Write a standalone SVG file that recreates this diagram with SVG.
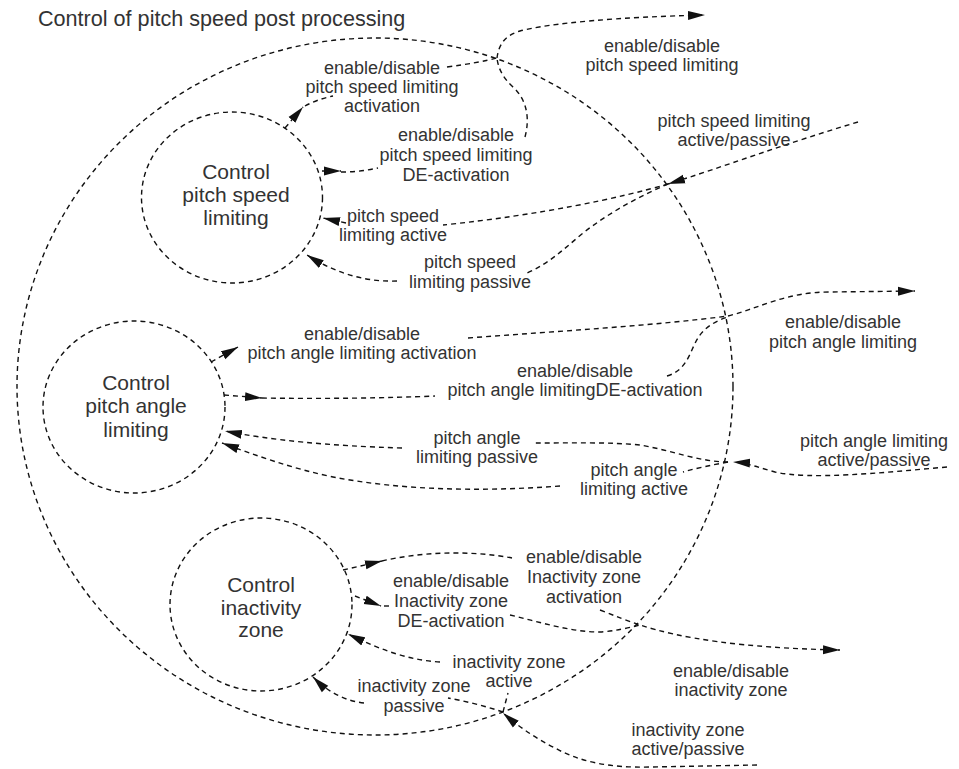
<svg xmlns="http://www.w3.org/2000/svg" width="959" height="769" viewBox="0 0 959 769">
  <style>
    text { font-family: "Liberation Sans", Arial, sans-serif; fill: #333; }
    .title { font-size: 21.6px; }
    .node-text { font-size: 21px; text-anchor: middle; }
    .label { font-size: 18px; text-anchor: middle; }
    .bubble { fill: none; stroke: #111; stroke-width: 1.4; stroke-dasharray: 5 4; }
    .edge { fill: none; stroke: #111; stroke-width: 1.4; stroke-dasharray: 5 4; }
    .arr { marker-end: url(#ah); }
  </style>
  <defs>
    <marker id="ah" markerUnits="userSpaceOnUse" markerWidth="18" markerHeight="10" refX="17" refY="5" orient="auto">
      <path d="M0,0.5 L17,5 L0,9.5 z" fill="#111"/>
    </marker>
  </defs>

  <rect width="959" height="769" fill="#fff"/>

  <!-- context process boundary -->
  <g id="post-processing">
    <ellipse class="bubble" cx="375" cy="386.5" rx="358" ry="348.5"/>
    <text class="title" x="38" y="26">Control of pitch speed post processing</text>
  </g>

  <!-- processes -->
  <g id="node-pitch-speed">
    <ellipse class="bubble" cx="232" cy="197.5" rx="90.5" ry="85.5"/>
    <text class="node-text"><tspan x="236" y="179">Control</tspan><tspan x="236" y="202">pitch speed</tspan><tspan x="236" y="225">limiting</tspan></text>
  </g>
  <g id="node-pitch-angle">
    <ellipse class="bubble" cx="134" cy="407" rx="91" ry="86"/>
    <text class="node-text"><tspan x="136" y="390">Control</tspan><tspan x="136" y="413">pitch angle</tspan><tspan x="136" y="437">limiting</tspan></text>
  </g>
  <g id="node-inactivity">
    <ellipse class="bubble" cx="261" cy="604.5" rx="91" ry="86.5"/>
    <text class="node-text"><tspan x="261" y="592">Control</tspan><tspan x="261" y="615">inactivity</tspan><tspan x="261" y="637">zone</tspan></text>
  </g>

  <!-- flows -->
  <g id="connectors">
    <!-- pitch speed: activation / de-activation out, merged -->
    <path class="edge arr" d="M285,128 L303,107"/>
    <path class="edge" d="M305,106 Q318,99 333,96"/>
    <path class="edge" d="M447,67 C470,64 485,61 497,58"/>
    <path class="edge arr" d="M322,171 L341,171"/>
    <path class="edge" d="M341,172 Q360,172 378,168"/>
    <path class="edge" d="M525,137 C530,118 527,100 513,87 C503,78 498,68 497,58"/>
    <path class="edge arr" d="M497,58 C499,42 507,35 520,31 C550,23 620,17 705,15"/>
    <!-- pitch speed: active / passive in, split -->
    <path class="edge arr" d="M858,122 C790,142 720,168 668,184"/>
    <path class="edge" d="M668,184 C620,198 540,215 443,225"/>
    <path class="edge arr" d="M346,223 L323,218"/>
    <path class="edge" d="M668,184 C640,196 610,212 583,233 C565,248 550,263 527,273"/>
    <path class="edge arr" d="M397,281 C370,282 340,276 307,255"/>

    <!-- pitch angle: activation / de-activation out, merged -->
    <path class="edge arr" d="M211,362 L238,347"/>
    <path class="edge arr" d="M468,338 C560,331 650,326 728,316 C760,308 785,292 830,292 L915,291"/>
    <path class="edge arr" d="M224,395 L262,398"/>
    <path class="edge" d="M262,398 C320,399 390,398 435,396"/>
    <path class="edge" d="M667,376 C688,370 690,350 698,338 C704,328 715,321 728,317"/>
    <!-- pitch angle: active / passive in, split -->
    <path class="edge arr" d="M947,467 C880,473 810,480 775,472 C760,468 748,463 733,462"/>
    <path class="edge" d="M728,462 C700,462 670,450 640,445 C610,442 570,443 535,443"/>
    <path class="edge arr" d="M402,448 C330,446 270,440 225,431"/>
    <path class="edge" d="M728,462 C712,465 697,468 683,472"/>
    <path class="edge arr" d="M560,486 C480,492 400,490 333,477 C290,468 255,455 222,443"/>

    <!-- inactivity zone: activation / de-activation out, merged -->
    <path class="edge arr" d="M343,570 L382,561"/>
    <path class="edge" d="M382,561 C420,552 470,550 512,558"/>
    <path class="edge arr" d="M600,610 C615,616 628,621 640,625 C680,638 740,648 840,650"/>
    <path class="edge arr" d="M355,596 L381,606"/>
    <path class="edge" d="M384,606 L393,606"/>
    <path class="edge" d="M510,615 C540,622 570,632 600,632 C615,631 628,628 640,625"/>
    <!-- inactivity zone: active / passive in, split -->
    <path class="edge arr" d="M757,765 L650,767 C610,768 580,762 555,748 C535,738 518,726 503,713"/>
    <path class="edge" d="M503,712 L508,693"/>
    <path class="edge arr" d="M440,662 C410,660 385,652 348,634"/>
    <path class="edge" d="M503,712 C485,706 465,701 448,698"/>
    <path class="edge arr" d="M364,703 C345,701 328,692 313,677"/>
  </g>

  <!-- flow labels -->
  <g id="labels">
    <text class="label"><tspan x="662" y="52">enable/disable</tspan><tspan x="662" y="71">pitch speed limiting</tspan></text>
    <text class="label"><tspan x="382" y="74">enable/disable</tspan><tspan x="382" y="93">pitch speed limiting</tspan><tspan x="382" y="112">activation</tspan></text>
    <text class="label"><tspan x="456" y="141">enable/disable</tspan><tspan x="456" y="161">pitch speed limiting</tspan><tspan x="456" y="181">DE-activation</tspan></text>
    <text class="label"><tspan x="734" y="127">pitch speed limiting</tspan><tspan x="734" y="146">active/passive</tspan></text>
    <text class="label"><tspan x="393" y="222">pitch speed</tspan><tspan x="393" y="241">limiting active</tspan></text>
    <text class="label"><tspan x="470" y="268">pitch speed</tspan><tspan x="470" y="288">limiting passive</tspan></text>

    <text class="label"><tspan x="362" y="340">enable/disable</tspan><tspan x="362" y="359">pitch angle limiting activation</tspan></text>
    <text class="label"><tspan x="843" y="328">enable/disable</tspan><tspan x="843" y="348">pitch angle limiting</tspan></text>
    <text class="label"><tspan x="575" y="377">enable/disable</tspan><tspan x="575" y="396">pitch angle limitingDE-activation</tspan></text>
    <text class="label"><tspan x="477" y="444">pitch angle</tspan><tspan x="477" y="463">limiting passive</tspan></text>
    <text class="label"><tspan x="634" y="476">pitch angle</tspan><tspan x="634" y="495">limiting active</tspan></text>
    <text class="label"><tspan x="874" y="447">pitch angle limiting</tspan><tspan x="874" y="466">active/passive</tspan></text>

    <text class="label"><tspan x="584" y="563">enable/disable</tspan><tspan x="584" y="583">Inactivity zone</tspan><tspan x="584" y="603">activation</tspan></text>
    <text class="label"><tspan x="451" y="587">enable/disable</tspan><tspan x="451" y="607">Inactivity zone</tspan><tspan x="451" y="627">DE-activation</tspan></text>
    <text class="label"><tspan x="731" y="677">enable/disable</tspan><tspan x="731" y="696">inactivity zone</tspan></text>
    <text class="label"><tspan x="509" y="668">inactivity zone</tspan><tspan x="509" y="687">active</tspan></text>
    <text class="label"><tspan x="414" y="692">inactivity zone</tspan><tspan x="414" y="712">passive</tspan></text>
    <text class="label"><tspan x="688" y="736">inactivity zone</tspan><tspan x="688" y="755">active/passive</tspan></text>
  </g>
</svg>
